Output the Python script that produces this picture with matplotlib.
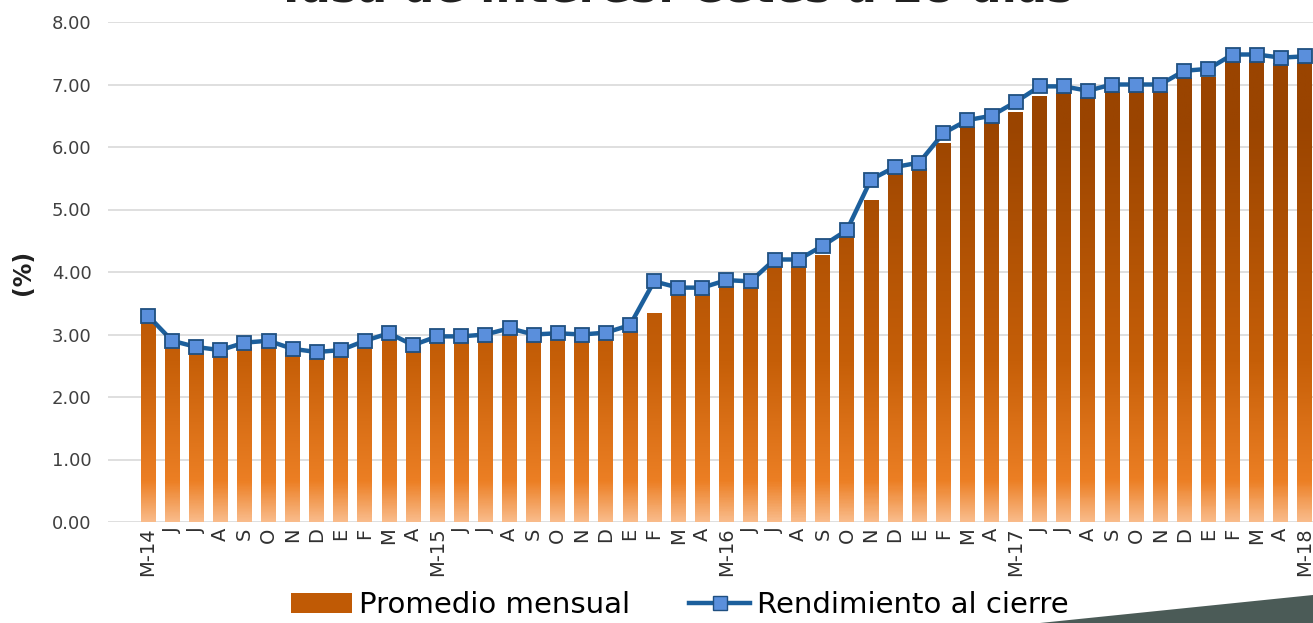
import numpy as np
import matplotlib
matplotlib.use("Agg")
import matplotlib.pyplot as plt
from matplotlib.colors import LinearSegmentedColormap
from matplotlib.patches import Polygon
from matplotlib.lines import Line2D
from matplotlib.patches import Patch

# ---- data ----
labels = ["M-14", "J", "J", "A", "S", "O", "N", "D", "E", "F", "M", "A",
          "M-15", "J", "J", "A", "S", "O", "N", "D", "E", "F", "M", "A",
          "M-16", "J", "J", "A", "S", "O", "N", "D", "E", "F", "M", "A",
          "M-17", "J", "J", "A", "S", "O", "N", "D", "E", "F", "M", "A",
          "M-18"]
promedio = [3.22, 2.85, 2.74, 2.70, 2.80, 2.85, 2.72, 2.68, 2.70, 2.83, 2.95, 2.80,
            2.92, 2.92, 2.95, 3.03, 2.96, 2.98, 2.96, 2.98, 3.08, 3.34, 3.66, 3.66,
            3.78, 3.74, 4.08, 4.08, 4.27, 4.56, 5.15, 5.58, 5.66, 6.06, 6.32, 6.40,
            6.56, 6.82, 6.86, 6.80, 6.88, 6.88, 6.88, 7.10, 7.12, 7.39, 7.40, 7.34,
            7.35]
cierre = [3.30, 2.90, 2.80, 2.75, 2.87, 2.90, 2.77, 2.72, 2.75, 2.90, 3.02, 2.83,
          2.97, 2.97, 3.00, 3.10, 3.00, 3.02, 3.00, 3.03, 3.15, 3.85, 3.75, 3.75,
          3.87, 3.85, 4.20, 4.20, 4.42, 4.67, 5.48, 5.68, 5.75, 6.22, 6.43, 6.50,
          6.72, 6.97, 6.97, 6.90, 7.00, 7.00, 7.00, 7.22, 7.25, 7.48, 7.48, 7.43,
          7.45]
yticks = [0, 1, 2, 3, 4, 5, 6, 7, 8]
title = "Tasa de interés: Cetes a 28 días"

W, H = 1313, 623
fig = plt.figure(figsize=(W / 100, H / 100), dpi=100)
ax = fig.add_axes([108 / W, 1 - 522 / H, 1 - 108 / W, (522 - 22) / H])

x = np.arange(len(labels))
bars = ax.bar(x, promedio, width=0.62, color="#b35400", zorder=2)

# gradient fill for bars (dark at top, light at bottom)
cmap = LinearSegmentedColormap.from_list(
    "g", [(0.0, "#f9bb8a"), (0.10, "#ec7f24"), (0.40, "#c65f08"), (1.0, "#9a4400")])
for b in bars:
    bx = b.get_x()
    bw, bh = b.get_width(), b.get_height()
    im = ax.imshow(np.linspace(0, bh / 8.0 * 1.25, 256).reshape(-1, 1),
                   cmap=cmap, origin="lower", extent=[bx, bx + bw, 0, bh],
                   aspect="auto", zorder=2, vmin=0, vmax=1,
                   interpolation="bilinear")
    im.set_clip_path(b)
    b.set_facecolor("none")
    b.set_edgecolor("none")

ax.plot(x, cierre, color="#1c5f9c", lw=3.2, marker="s", markersize=10,
        markerfacecolor="#5a8fdc", markeredgecolor="#1f4f80", markeredgewidth=1.3,
        zorder=4)

ax.set_xlim(-1.66, 48.34)
ax.set_ylim(0, 8)
ax.set_yticks(yticks)
ax.set_yticklabels([f"{v:.2f}" for v in yticks], fontsize=13, color="#404040")
ax.set_xticks(x)
ax.set_xticklabels(labels, rotation=90, fontsize=14, color="#303030",
                   va="top", ha="center")
ax.tick_params(axis="x", length=0, pad=4)
ax.tick_params(axis="y", length=0, pad=12)
ax.grid(axis="y", color="#d9d9d9", lw=1.2, zorder=0)
ax.set_axisbelow(True)
for s in ax.spines.values():
    s.set_visible(False)
ax.set_ylabel("(%)", fontsize=17, fontweight="bold", color="#202020")
ax.yaxis.set_label_coords((35 - 108) / (W - 108), 0.5)

fig.text(675 / W, 1 - 1 / H, title, fontsize=32, fontweight="bold",
         ha="center", va="baseline", color="#202020")

handles = [Patch(facecolor="#c05a05", edgecolor="none"),
           Line2D([0], [0], color="#1c5f9c", lw=3.2, marker="s", markersize=10,
                  markerfacecolor="#5a8fdc", markeredgecolor="#1f4f80")]
fig.legend(handles, ["Promedio mensual", "Rendimiento al cierre"], loc="center",
           bbox_to_anchor=(680 / W, 1 - 605 / H), ncol=2, frameon=False,
           fontsize=21, handlelength=2.1, handleheight=0.7, columnspacing=2.0,
           handletextpad=0.25, borderaxespad=0, borderpad=0)

# slide decoration at bottom right
fig.patches.append(Polygon([(1040 / W, 0), (1, 28 / H), (1, 0)],
                           closed=True, transform=fig.transFigure,
                           facecolor="#4b5b57", edgecolor="none", zorder=5))

fig.savefig("out.png", dpi=100)
